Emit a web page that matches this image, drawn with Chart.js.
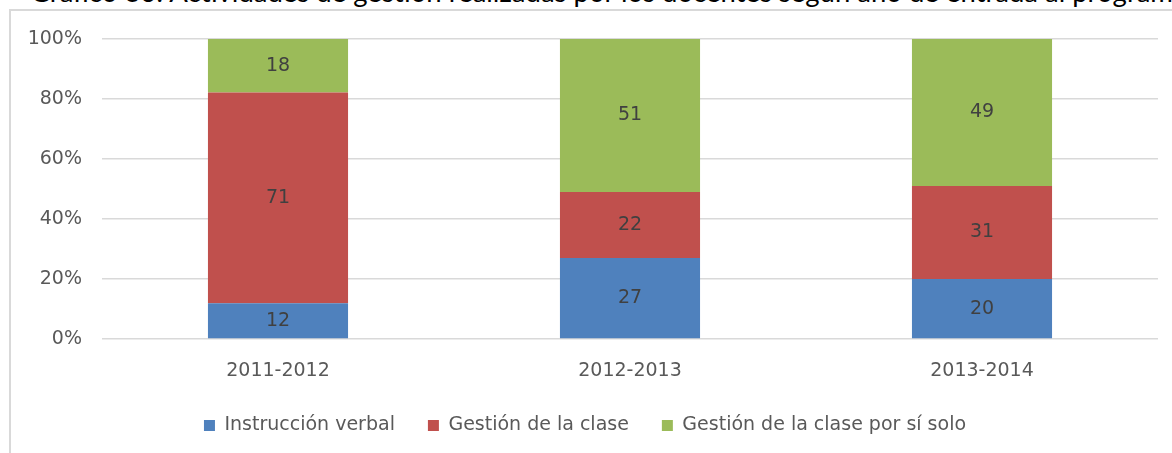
<!DOCTYPE html>
<html>
<head>
<meta charset="utf-8">
<script src="https://cdn.jsdelivr.net/npm/chart.js@4.4.1/dist/chart.umd.min.js"></script>
<style>
  html, body { margin: 0; padding: 0; background: #fff; overflow: hidden; }
  #wrap { position: relative; width: 1172px; height: 453px; overflow: hidden; }
  #title {
    position: absolute; left: 30px; top: -25px; white-space: nowrap;
    font-family: Lato, sans-serif; font-size: 27.5px; color: #000;
  }
  #frame {
    position: absolute; left: 9px; top: 9px; width: 1200px; height: 500px;
    border-left: 2px solid #d9d9d9; border-top: 2px solid #d9d9d9;
    background: #fff;
  }
  canvas { position: absolute; left: 0; top: 0; }
</style>
</head>
<body>
<div id="wrap">
  <div id="title">Gráfico 30: Actividades de gestión realizadas por los docentes según año de entrada al programa</div>
  <div id="frame"></div>
  <canvas id="chart" width="1172" height="453"></canvas>
</div>
<script>
document.addEventListener("DOMContentLoaded", function() {

  const years = ["2011-2012", "2012-2013", "2013-2014"];
  const instruccion = [12, 27, 20];
  const gestion = [71, 22, 31];
  const gestionSolo = [18, 51, 49];
  const yTicks = [0, 20, 40, 60, 80, 100];

  const totals = years.map((y, i) => instruccion[i] + gestion[i] + gestionSolo[i]);
  const toPct = (arr) => arr.map((v, i) => v / totals[i] * 100);

  const series = [
    { label: "Instrucción verbal", raw: instruccion, color: "#4F81BD" },
    { label: "Gestión de la clase", raw: gestion, color: "#C0504D" },
    { label: "Gestión de la clase por sí solo", raw: gestionSolo, color: "#9BBB59" },
  ];

  const fontFamily = "'DejaVu Sans', sans-serif";

  // draws the raw value in the middle of each segment
  const valueLabels = {
    id: "valueLabels",
    afterDatasetsDraw(chart) {
      const ctx = chart.ctx;
      ctx.save();
      ctx.font = "19px " + fontFamily;
      ctx.fillStyle = "#404040";
      ctx.textAlign = "center";
      ctx.textBaseline = "middle";
      chart.data.datasets.forEach((ds, di) => {
        const meta = chart.getDatasetMeta(di);
        meta.data.forEach((bar, i) => {
          ctx.fillText(String(ds.rawValues[i]), bar.x, (bar.y + bar.base) / 2);
        });
      });
      ctx.restore();
    }
  };

  const ctxChart = document.getElementById("chart").getContext("2d");
  new Chart(ctxChart, {
    type: "bar",
    data: {
      labels: years,
      datasets: series.map(s => ({
        label: s.label,
        data: toPct(s.raw),
        rawValues: s.raw,
        backgroundColor: s.color,
        borderWidth: 0,
        categoryPercentage: 1,
        barPercentage: 0.398,
      })),
    },
    options: {
      responsive: false,
      animation: false,
      layout: { padding: { left: 12, right: 14, top: 39, bottom: 8 } },
      scales: {
        x: {
          stacked: true,
          grid: { display: false, drawTicks: false },
          border: { display: false },
          ticks: { color: "#595959", font: { family: fontFamily, size: 19, lineHeight: 1 }, padding: 23 },
          afterFit: (s) => { s.height = 44; },
        },
        y: {
          stacked: true,
          min: 0,
          max: 100,
          afterBuildTicks: (s) => { s.ticks = yTicks.map(v => ({ value: v })); },
          grid: { color: "#d9d9d9", lineWidth: 1.5, drawTicks: false },
          border: { display: false },
          ticks: {
            color: "#595959",
            font: { family: fontFamily, size: 19 },
            padding: 20,
            callback: (v) => v + "%",
          },
          afterFit: (s) => { s.width = 90; },
        },
      },
      plugins: {
        legend: {
          position: "bottom",
          labels: {
            boxWidth: 11,
            boxHeight: 11,
            padding: 33,
            color: "#595959",
            font: { family: fontFamily, size: 19 },
          },
        },
        tooltip: { enabled: false },
      },
    },
    plugins: [valueLabels],
  });
});
</script>
</body>
</html>
